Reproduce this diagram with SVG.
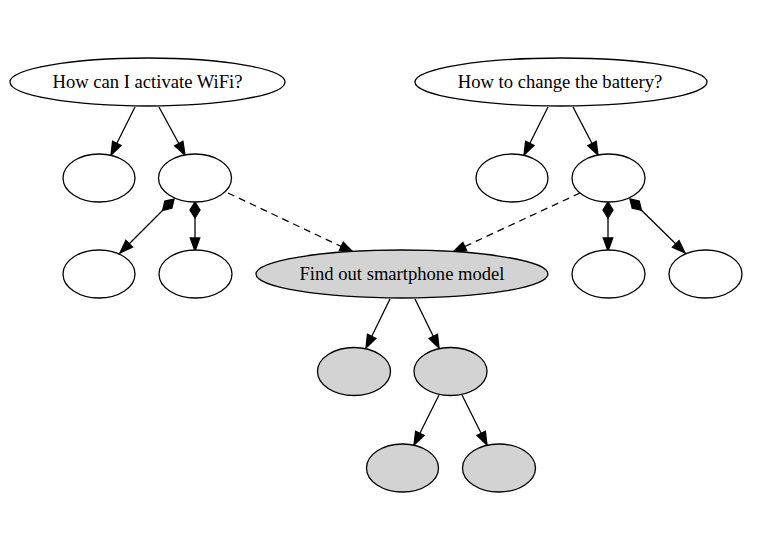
<svg xmlns="http://www.w3.org/2000/svg" width="762" height="534" viewBox="0 0 762 534">
<style>
.n ellipse{fill:#ffffff;stroke:#000;stroke-width:1.3}
.g ellipse{fill:#d3d3d3;stroke:#000;stroke-width:1.3}
text{font-family:"Liberation Serif","Times New Roman",serif;font-size:18.6px;fill:#000;text-anchor:middle}
#edges line{stroke:#000;stroke-width:1.3;fill:none;marker-end:url(#arr)}
#edges line.d{stroke-dasharray:7,5}
#edges line.dia{marker-start:url(#dia)}
</style>
<defs>
<marker id="arr" markerUnits="userSpaceOnUse" orient="auto" refX="13" refY="0" overflow="visible" markerWidth="14" markerHeight="10">
<path d="M0,-4.7 L13,0 L0,4.7 Z" fill="#000" stroke="#000" stroke-width="1.3"/>
</marker>
<marker id="dia" markerUnits="userSpaceOnUse" orient="auto" refX="0" refY="0" overflow="visible" markerWidth="16" markerHeight="11">
<path d="M0,0 L8,-5 L16,0 L8,5 Z" fill="#000" stroke="#000" stroke-width="1.3"/>
</marker>
</defs>
<rect width="762" height="534" fill="#fff"/>
<g id="edges">
<line x1="135" y1="107" x2="111" y2="155"/>
<line x1="159" y1="107" x2="185" y2="155"/>
<line x1="548" y1="107" x2="524" y2="155"/>
<line x1="573" y1="107" x2="598" y2="155"/>
<line class="dia" x1="174" y1="199" x2="120" y2="253"/>
<line class="dia" x1="195" y1="202" x2="195" y2="251"/>
<line class="dia" x1="608" y1="202" x2="608" y2="251"/>
<line class="dia" x1="630" y1="199" x2="685" y2="253"/>
<line class="d" x1="228" y1="193" x2="353" y2="252"/>
<line class="d" x1="580" y1="193" x2="453" y2="252"/>
<line x1="390" y1="299" x2="366" y2="348"/>
<line x1="415" y1="299" x2="439" y2="348"/>
<line x1="439" y1="395" x2="414" y2="445"/>
<line x1="462" y1="395" x2="487" y2="445"/>
</g>
<g id="wifi" class="n"><ellipse cx="147.5" cy="82" rx="137.5" ry="24"/><text x="147.5" y="88">How can I activate WiFi?</text></g>
<g id="battery" class="n"><ellipse cx="561" cy="82" rx="146" ry="24"/><text x="560" y="88">How to change the battery?</text></g>
<g id="w1" class="n"><ellipse cx="99" cy="178" rx="36" ry="24"/></g>
<g id="w2" class="n"><ellipse cx="195" cy="178" rx="36.5" ry="24"/></g>
<g id="w3" class="n"><ellipse cx="99" cy="274" rx="36" ry="24"/></g>
<g id="w4" class="n"><ellipse cx="195.5" cy="274" rx="36.5" ry="24"/></g>
<g id="b1" class="n"><ellipse cx="512" cy="178" rx="36" ry="24"/></g>
<g id="b2" class="n"><ellipse cx="608.5" cy="178" rx="36.5" ry="24"/></g>
<g id="b3" class="n"><ellipse cx="608.5" cy="274" rx="36.5" ry="24"/></g>
<g id="b4" class="n"><ellipse cx="705.5" cy="274" rx="36.5" ry="24"/></g>
<g id="model" class="g"><ellipse cx="402" cy="274" rx="146" ry="24"/><text x="402" y="280">Find out smartphone model</text></g>
<g id="m1" class="g"><ellipse cx="354" cy="371.5" rx="36.5" ry="24"/></g>
<g id="m2" class="g"><ellipse cx="450.5" cy="371.5" rx="36.5" ry="24"/></g>
<g id="m3" class="g"><ellipse cx="402.5" cy="468" rx="36" ry="24"/></g>
<g id="m4" class="g"><ellipse cx="499" cy="468" rx="36.5" ry="24"/></g>
</svg>
